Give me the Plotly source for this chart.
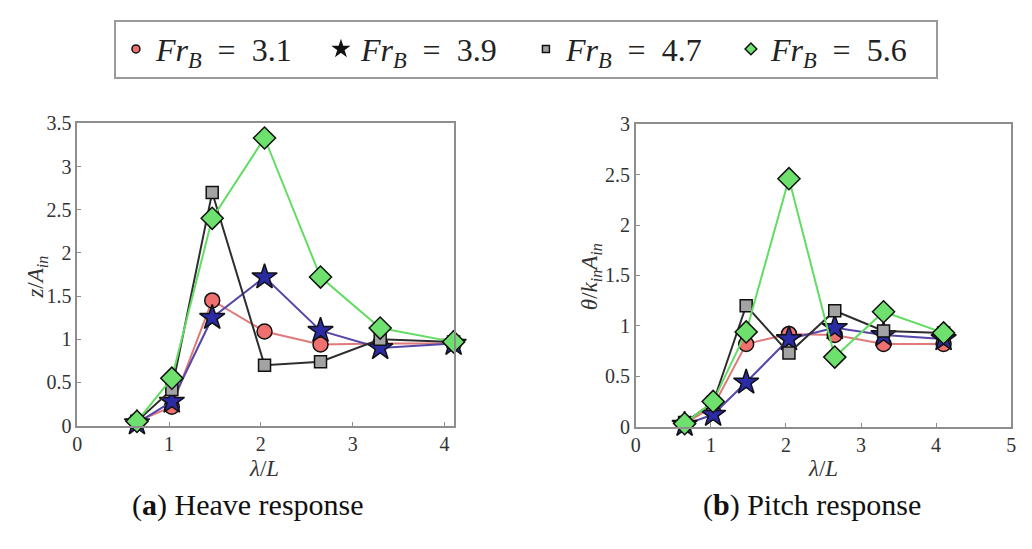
import plotly.graph_objects as go

# Wavelength ratio lambda/L at each test condition
wave_ratio = [0.65, 1.03, 1.47, 2.04, 2.65, 3.30, 4.10]

# Froude numbers of the four series
froude_labels = ["3.1", "3.9", "4.7", "5.6"]

# Heave response z/A_in
heave_fr31 = [0.05, 0.22, 1.45, 1.09, 0.94, 0.95, 0.95]
heave_fr39 = [0.03, 0.28, 1.25, 1.72, 1.10, 0.90, 0.95]
heave_fr47 = [0.05, 0.42, 2.70, 0.70, 0.74, 1.00, 0.97]
heave_fr56 = [0.05, 0.55, 2.40, 3.33, 1.72, 1.13, 0.97]

# Pitch response theta/(k_in A_in)
pitch_fr31 = [0.03, 0.20, 0.82, 0.92, 0.91, 0.82, 0.82]
pitch_fr39 = [0.02, 0.12, 0.44, 0.87, 0.98, 0.91, 0.87]
pitch_fr47 = [0.04, 0.24, 1.20, 0.73, 1.15, 0.95, 0.93]
pitch_fr56 = [0.03, 0.25, 0.94, 2.46, 0.69, 1.14, 0.93]

heave_series = [heave_fr31, heave_fr39, heave_fr47, heave_fr56]
pitch_series = [pitch_fr31, pitch_fr39, pitch_fr47, pitch_fr56]

styles = [
    dict(symbol="circle", size=15, fill="#f07070", line="#e07a7a"),
    dict(symbol="star", size=19, fill="#2b2ba6", line="#5546a8"),
    dict(symbol="square", size=12, fill="#a3a3a3", line="#2e2e2e"),
    dict(symbol="diamond", size=17, fill="#6ee06e", line="#63dc63"),
]

W, H = 1032, 549
SERIF = "Liberation Serif"

fig = go.Figure()

for series, xa, ya in ((heave_series, "x", "y"), (pitch_series, "x2", "y2")):
    for vals, st in zip(series, styles):
        fig.add_trace(go.Scatter(
            x=wave_ratio, y=vals, xaxis=xa, yaxis=ya,
            mode="lines+markers", showlegend=False, cliponaxis=False,
            line=dict(color=st["line"], width=2),
            marker=dict(symbol=st["symbol"], size=st["size"], color=st["fill"],
                        line=dict(color="#111111", width=1.5)),
        ))

# Legend entries with small symbols
legend_sizes = [8, 11, 7, 9]
legend_fills = ["#f07070", "#111111", "#a3a3a3", "#6ee06e"]
eq = "&#8194;=&#8194;"
for lab, st, sz, fc in zip(froude_labels, styles, legend_sizes, legend_fills):
    fig.add_trace(go.Scatter(
        x=[None], y=[None], mode="markers",
        name="<i>Fr</i><sub><i>B</i></sub>" + eq + lab,
        marker=dict(symbol=st["symbol"], size=sz, color=fc,
                    line=dict(color="#111111", width=1.5)),
    ))

def px_x(p):
    return p / W

def px_y(p):
    return 1 - p / H

axis_common = dict(
    showline=True, linecolor="#8e8e8e", linewidth=1.5, mirror=True,
    ticks="inside", ticklen=4, tickcolor="#8e8e8e", tickwidth=1,
    showgrid=False, zeroline=False,
    tickfont=dict(family=SERIF, size=20, color="#333333"),
)

fig.update_layout(
    width=W, height=H,
    margin=dict(l=0, r=0, t=0, b=0),
    paper_bgcolor="white", plot_bgcolor="white",
    xaxis=dict(domain=[px_x(73), px_x(453)], range=[0, 4.1],
               tickvals=[0, 1, 2, 3, 4], anchor="y", **axis_common),
    yaxis=dict(domain=[px_y(432), px_y(117)], range=[0, 3.5],
               tickvals=[0, 0.5, 1, 1.5, 2, 2.5, 3, 3.5], anchor="x", **axis_common),
    xaxis2=dict(domain=[px_x(637), px_x(1016)], range=[0, 5],
                tickvals=[0, 1, 2, 3, 4, 5], anchor="y2", **axis_common),
    yaxis2=dict(domain=[px_y(433), px_y(118)], range=[0, 3],
                tickvals=[0, 0.5, 1, 1.5, 2, 2.5, 3], anchor="x2", **axis_common),
    legend=dict(
        orientation="h", x=px_x(110), y=px_y(9), xanchor="left", yanchor="top",
        bordercolor="#9a9a9a", borderwidth=2, bgcolor="white",
        font=dict(family=SERIF, size=32, color="#222222"),
        entrywidth=160, entrywidthmode="pixels",
        tracegroupgap=0,
    ),
)

title_font = dict(family=SERIF, size=23, color="#333333")
annotations = [
    dict(text="<i>z</i>/<i>A</i><sub><i>in</i></sub>", x=px_x(32), y=px_y(277),
         textangle=-90, font=title_font),
    dict(text="<i>θ</i>/<i>k</i><sub><i>in</i></sub><i>A</i><sub><i>in</i></sub>",
         x=px_x(592), y=px_y(277), textangle=-90, font=title_font),
    dict(text="<i>λ</i>/<i>L</i>", x=px_x(262), y=px_y(477), font=title_font),
    dict(text="<i>λ</i>/<i>L</i>", x=px_x(826), y=px_y(477), font=title_font),
    dict(text="(<b>a</b>) Heave response", x=px_x(245), y=px_y(515),
         font=dict(family=SERIF, size=30, color="#111111")),
    dict(text="(<b>b</b>) Pitch response", x=px_x(815), y=px_y(515),
         font=dict(family=SERIF, size=30, color="#111111")),
]
for a in annotations:
    a.update(xref="paper", yref="paper", showarrow=False, xanchor="center", yanchor="middle")
fig.update_layout(annotations=annotations)

fig.write_html("out.html")
